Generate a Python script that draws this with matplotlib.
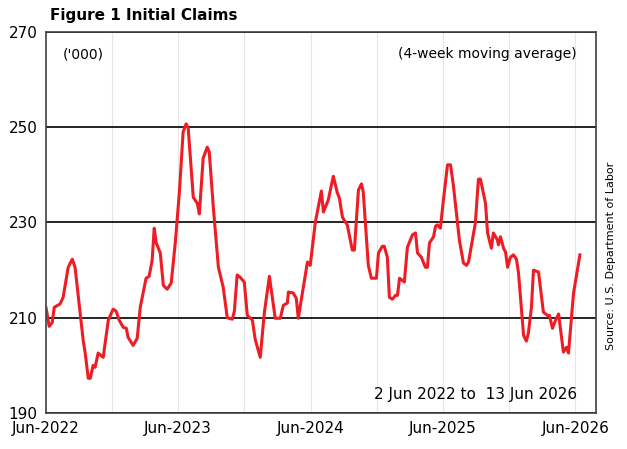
import numpy as np
import pandas as pd
import matplotlib
matplotlib.use("Agg")
import matplotlib.pyplot as plt

# weeks since 2 Jun 2022
weeks = [0, 1.2, 2.4, 3.2, 5.5, 6.7, 8.7, 10.3, 11.4, 13, 14.6, 15.4, 16.6, 17.4, 18.5, 19.3, 20.5,
         22.5, 24.5, 26.4, 27.6, 28.8, 30.4, 31.6, 32.3, 34.3, 35.9, 37.1, 39.4, 40.6, 41.8, 42.6,
         43.4, 45, 46.2, 47.7, 49.3, 50.9, 52.5, 54, 55.2, 56, 58, 59.6, 60.4, 61.9, 63.5, 64.3,
         65.9, 67.9, 69.8, 71.4, 73.4, 74.2, 75.3, 76.5, 78.1, 79.3, 81.3, 82.4, 84.4, 86, 88,
         90.3, 92.3, 93.5, 95.1, 95.5, 97.4, 98.6, 99.4, 101, 103, 104.1, 106.1, 108.5, 109.3,
         111.2, 113.2, 114.8, 115.6, 116.8, 118.7, 120.7, 121.5, 123.1, 124.3, 125, 127, 128.2,
         130.2, 131, 132.5, 133.3, 134.5, 135.3, 136.5, 137.7, 138.5, 139.3, 141.2, 142.4, 144.4,
         145.6, 146.4, 147.9, 149.5, 150.3, 151.1, 152.7, 153.5, 154.2, 155.4, 156.6, 158.2,
         159.4, 160.5, 162.9, 164.5, 165.7, 166.5, 168, 169.2, 170.4, 171.2, 173.2, 174, 175.5,
         176.3, 177.9, 178.3, 179.1, 180.3, 181.1, 181.9, 183, 184.2, 185.4, 186.2, 188.2, 189.3,
         190.1, 191.3, 192.1, 194.1, 196, 197.6, 198.4, 199.6, 200.8, 202, 203.9, 205.1, 205.9,
         207.9, 210.4]
claims = [212, 208.2, 209, 212.2, 212.9, 214.3, 220.6, 222.3, 220.6, 213.0, 205.3, 202.6, 197.3,
          197.3, 200, 199.6, 202.6, 201.7, 209.5, 211.8, 211.4, 209.5, 208, 207.8, 205.9, 204.2,
          205.7, 212.2, 218.3, 218.7, 222.1, 228.8, 225.7, 223.6, 216.8, 216, 217.3, 225.7, 236.2,
          249, 250.7, 249.8, 235.3, 234, 231.8, 243.5, 245.8, 244.8, 233.2, 220.6, 216.4, 210,
          209.7, 211.4, 219, 218.5, 217.5, 210.5, 209.5, 205.5, 201.7, 211, 218.7, 209.9, 209.9,
          212.6, 213.1, 215.4, 215.2, 214.1, 209.9, 215.2, 221.7, 221, 230, 236.6, 232.2, 234.7,
          239.7, 236.2, 235.1, 231.1, 229.5, 224.2, 224.2, 236.8, 238.1, 236.4, 221, 218.3, 218.3,
          223.6, 225, 225, 222.7, 214.3, 213.9, 214.7, 214.7, 218.3, 217.5, 224.8, 227.4, 227.8,
          223.6, 222.7, 220.6, 220.6, 225.7, 227, 229.2, 229.5, 228.8, 234.7, 242.1, 242.1, 237.9,
          226.3, 221.5, 221, 221.7, 226.3, 229.9, 239.1, 239.1, 234, 227.8, 224.6, 227.8, 226.3,
          225.3, 227, 224.6, 223.8, 220.6, 222.7, 223.2, 222.3, 219.4, 206.3, 205.1, 206.8, 212.2,
          220, 219.6, 211.2, 210.5, 210.5, 207.8, 209.5, 210.8, 202.8, 203.8, 202.6, 215.2, 223.2]
tick_labels = ["Jun-2022", "Jun-2023", "Jun-2024", "Jun-2025", "Jun-2026"]

start = pd.Timestamp("2022-06-02")
dates = [start + pd.Timedelta(days=w * 7) for w in weeks]

fig = plt.figure(figsize=(6.27, 4.49), dpi=100)
ax = fig.add_axes([0.073, 0.080, 0.878, 0.849])
ax.plot(dates, claims, color="#ee1c25", lw=2.2)

ax.set_xlim(pd.Timestamp("2022-06-01"), pd.Timestamp("2026-07-29"))
ax.set_ylim(190, 270)
ax.set_yticks([190, 210, 230, 250, 270])
ax.yaxis.grid(True, color="black", lw=1.2)
minor = pd.date_range("2022-12-01", "2026-06-01", freq="6MS")
for d in minor:
    ax.axvline(d, color="#e6e6e6", lw=0.8, zorder=0)
ax.set_xticks([pd.Timestamp(f"{y}-06-01") for y in range(2022, 2027)])
ax.set_xticklabels(tick_labels)
ax.tick_params(length=0, labelsize=11, pad=6)
ax.set_axisbelow(True)
for s in ax.spines.values():
    s.set_color("#404040")
    s.set_linewidth(1.2)

fig.text(0.08, 0.965, "Figure 1 Initial Claims", fontsize=11, fontweight="bold", va="center")
ax.text(0.03, 0.96, "('000)", transform=ax.transAxes, fontsize=10, va="top")
ax.text(0.965, 0.96, "(4-week moving average)", transform=ax.transAxes, fontsize=10, va="top", ha="right")
ax.text(0.965, 0.03, "2 Jun 2022 to  13 Jun 2026", transform=ax.transAxes, fontsize=11, ha="right", va="bottom")
fig.text(0.975, 0.43, "Source: U.S. Department of Labor", rotation=90, fontsize=8, ha="center", va="center")

fig.savefig("out.png", dpi=100)
